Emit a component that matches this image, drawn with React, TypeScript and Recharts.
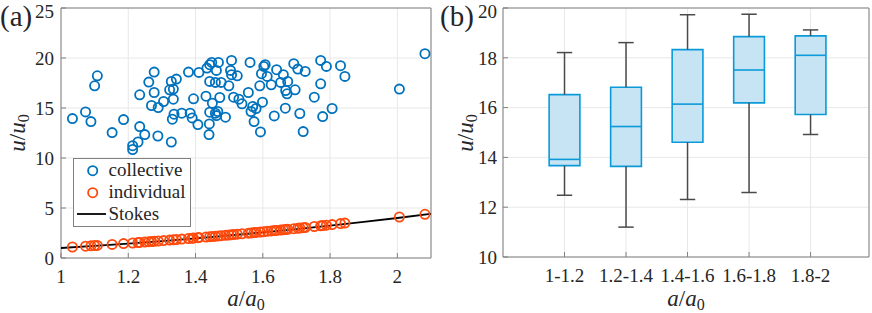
import React from "react";
import {
  ComposedChart,
  Scatter,
  Line,
  XAxis,
  YAxis,
  CartesianGrid,
  ReferenceArea,
  ReferenceLine,
  Legend,
  Label,
} from "recharts";

document.body.style.margin = "0";

// ---- panel (a): speed vs size ----
const collectiveX = [
  1.034, 1.073, 1.089, 1.1, 1.108, 1.152, 1.186, 1.213, 1.229, 1.249, 1.234, 1.234, 1.261, 1.269,
  1.277, 1.277, 1.289, 1.288, 1.305, 1.323, 1.328, 1.334, 1.343, 1.334, 1.336, 1.331, 1.328, 1.359,
  1.379, 1.384, 1.39, 1.394, 1.407, 1.41, 1.431, 1.434, 1.442, 1.448, 1.468, 1.462, 1.442, 1.459,
  1.476, 1.45, 1.442, 1.441, 1.44, 1.459, 1.462, 1.466, 1.472, 1.489, 1.499, 1.504, 1.507, 1.507,
  1.513, 1.524, 1.529, 1.538, 1.557, 1.562, 1.565, 1.57, 1.574, 1.58, 1.593, 1.591, 1.599, 1.596,
  1.603, 1.607, 1.613, 1.625, 1.634, 1.641, 1.653, 1.661, 1.668, 1.667, 1.674, 1.672, 1.692, 1.696,
  1.704, 1.71, 1.72, 1.726, 1.753, 1.772, 1.772, 1.778, 1.789, 1.806, 1.831, 1.844, 2.006, 2.082,
  1.213,
];
const collectiveY = [
  13.94, 14.61, 13.64, 17.22, 18.22, 12.54, 13.84, 11.23, 11.6, 12.34, 13.14, 16.32, 17.59, 15.25,
  18.59, 16.55, 15.05, 12.2, 15.65, 16.82, 17.66, 16.89, 17.89, 15.88, 14.38, 13.88, 11.6, 14.48,
  18.59, 14.48, 14.01, 15.92, 13.34, 18.56, 16.18, 18.99, 19.33, 19.56, 19.56, 18.76, 17.66, 17.56,
  17.56, 15.48, 14.58, 13.41, 12.34, 14.48, 14.24, 14.65, 16.05, 14.08, 17.22, 18.76, 19.76, 18.33,
  16.08, 18.22, 15.88, 15.42, 16.55, 19.56, 14.65, 15.15, 13.64, 14.95, 12.61, 17.22, 15.58, 18.43,
  19.16, 19.33, 18.16, 17.32, 14.21, 18.83, 17.56, 18.33, 16.75, 14.98, 17.66, 16.42, 19.43, 16.82,
  18.89, 14.45, 12.64, 18.66, 16.08, 19.76, 17.42, 14.14, 19.16, 14.95, 19.23, 18.16, 16.89, 20.43,
  10.85,
];
const individualX = [
  1.034, 1.073, 1.089, 1.1, 1.108, 1.152, 1.186, 1.213, 1.229, 1.234, 1.249, 1.261, 1.269, 1.277,
  1.289, 1.305, 1.323, 1.334, 1.343, 1.359, 1.379, 1.39, 1.394, 1.407, 1.41, 1.431, 1.442, 1.45,
  1.459, 1.468, 1.476, 1.489, 1.499, 1.507, 1.513, 1.524, 1.538, 1.557, 1.565, 1.574, 1.58, 1.593,
  1.603, 1.613, 1.625, 1.634, 1.641, 1.653, 1.661, 1.668, 1.674, 1.692, 1.704, 1.71, 1.72, 1.726,
  1.753, 1.772, 1.778, 1.789, 1.806, 1.831, 1.844, 2.006, 2.082,
];
const individualY = [
  1.1, 1.18, 1.22, 1.24, 1.26, 1.36, 1.44, 1.5, 1.54, 1.56, 1.6, 1.63, 1.65, 1.67,
  1.7, 1.74, 1.79, 1.82, 1.85, 1.89, 1.95, 1.98, 1.99, 2.03, 2.04, 2.1, 2.13, 2.15,
  2.18, 2.21, 2.23, 2.27, 2.3, 2.33, 2.35, 2.38, 2.42, 2.48, 2.51, 2.54, 2.56, 2.6,
  2.63, 2.67, 2.71, 2.74, 2.76, 2.8, 2.83, 2.85, 2.87, 2.93, 2.98, 3.0, 3.03, 3.05,
  3.15, 3.22, 3.24, 3.28, 3.34, 3.44, 3.49, 4.1, 4.37,
];
const stokesX = [1, 1.1, 1.2, 1.3, 1.4, 1.5, 1.6, 1.7, 1.8, 1.9, 2.0, 2.1];
const stokesY = [1, 1.21, 1.44, 1.69, 1.96, 2.25, 2.56, 2.89, 3.24, 3.61, 4.0, 4.41];
const xTicksA = [1, 1.2, 1.4, 1.6, 1.8, 2];
const yTicksA = [0, 5, 10, 15, 20, 25];

// ---- panel (b): box plots per size bin ----
const bins = ["1-1.2", "1.2-1.4", "1.4-1.6", "1.6-1.8", "1.8-2"];
const binPos = [1, 2, 3, 4, 5];
const whiskerLow = [12.48, 11.2, 12.31, 12.59, 14.92];
const q1 = [13.67, 13.64, 14.61, 16.19, 15.72];
const median = [13.92, 15.24, 16.14, 17.51, 18.1];
const q3 = [16.52, 16.82, 18.33, 18.85, 18.88];
const whiskerHigh = [18.21, 18.61, 19.73, 19.75, 19.12];
const yTicksB = [10, 12, 14, 16, 18, 20];

const FONT = "Liberation Serif";
const INK = "#262626";
const FRAME = "#808080";
const GRID = "#e8e8e8";
const BLUE = "#0072BD";
const ORANGE = "#FF4A0D";
const BOX_EDGE = "#0A9AD9";
const BOX_FILL = "#C6E4F4";
const WHISKER = "#4a4a4a";

const tickStyle = { fill: INK, fontSize: 19, fontFamily: FONT };

const collective = collectiveX.map((x, i) => ({ x, y: collectiveY[i] }));
const individual = individualX.map((x, i) => ({ x, y: individualY[i] }));
const stokes = stokesX.map((x, i) => ({ x, y: stokesY[i] }));
const boxes = bins.map((name, i) => ({
  x: binPos[i],
  name,
  lo: whiskerLow[i],
  q1: q1[i],
  med: median[i],
  q3: q3[i],
  hi: whiskerHigh[i],
}));

const ring = (color: string) => (p: any) =>
  <circle cx={p.cx} cy={p.cy} r={4.6} fill="none" stroke={color} strokeWidth={1.8} />;

function MathLabel({ x, y, base, rotate }: { x: number; y: number; base: string; rotate?: boolean }) {
  return (
    <text
      x={x}
      y={y}
      textAnchor="middle"
      fontFamily={FONT}
      fontSize={23}
      fill={INK}
      transform={rotate ? `rotate(-90 ${x} ${y})` : undefined}
    >
      <tspan fontStyle="italic">{base}</tspan>/<tspan fontStyle="italic">{base}</tspan>
      <tspan fontSize={16} dy={4}>0</tspan>
    </text>
  );
}

function LegendBox() {
  const rows = [
    { label: "collective", color: BLUE, y: 12.7 },
    { label: "individual", color: ORANGE, y: 34.7 },
  ];
  return (
    <div style={{ width: 118, height: 69, background: "#fff" }}>
      <svg width={118} height={69}>
        <rect x={0.5} y={0.5} width={117} height={68} fill="#fff" stroke={FRAME} />
        {rows.map((r) => (
          <g key={r.label}>
            <circle cx={19.7} cy={r.y} r={4.6} fill="none" stroke={r.color} strokeWidth={1.8} />
            <text x={35.5} y={r.y + 5.5} fontFamily={FONT} fontSize={19} fill={INK}>
              {r.label}
            </text>
          </g>
        ))}
        <line x1={4} x2={33} y1={56} y2={56} stroke="#000" strokeWidth={1.8} />
        <text x={35.5} y={61.5} fontFamily={FONT} fontSize={19} fill={INK}>
          Stokes
        </text>
      </svg>
    </div>
  );
}

// inward tick marks on the top and right edges (MATLAB box style)
const mirrorTicks = {
  allowDataOverflow: true,
  axisLine: false,
  tick: false,
  tickSize: -5,
  tickLine: { stroke: FRAME },
} as const;

function PanelA() {
  return (
    <ComposedChart width={440} height={313} margin={{ top: 8, right: 9, left: 0, bottom: 0 }}>
      <CartesianGrid stroke={GRID} />
      <XAxis
        type="number"
        dataKey="x"
        domain={[1, 2.1]}
        ticks={xTicksA}
        allowDataOverflow
        height={55}
        axisLine={false}
        tickSize={-5}
        tickMargin={17}
        tickLine={{ stroke: FRAME }}
        tick={tickStyle}
      >
        <Label content={() => <MathLabel x={246} y={306} base="a" />} />
      </XAxis>
      <XAxis xAxisId="top" orientation="top" type="number" domain={[1, 2.1]} ticks={xTicksA} height={0} {...mirrorTicks} />
      <YAxis
        type="number"
        dataKey="y"
        domain={[0, 25]}
        ticks={yTicksA}
        allowDataOverflow
        width={61}
        axisLine={false}
        tickSize={-5}
        tickMargin={12}
        tickLine={{ stroke: FRAME }}
        tick={tickStyle}
      >
        <Label content={() => <MathLabel x={25} y={133} base="u" rotate />} />
      </YAxis>
      <YAxis yAxisId="right" orientation="right" type="number" domain={[0, 25]} ticks={yTicksA} width={0} {...mirrorTicks} />
      <ReferenceArea x1={1} x2={2.1} y1={0} y2={25} fill="none" stroke={FRAME} strokeWidth={1} />
      <Scatter name="collective" data={collective} dataKey="y" shape={ring(BLUE)} isAnimationActive={false} />
      <Scatter name="individual" data={individual} dataKey="y" shape={ring(ORANGE)} isAnimationActive={false} />
      <Line
        name="Stokes"
        data={stokes}
        dataKey="y"
        type="monotone"
        stroke="#000"
        strokeWidth={1.8}
        dot={false}
        activeDot={false}
        isAnimationActive={false}
      />
      <Legend
        layout="vertical"
        align="center"
        verticalAlign="middle"
        content={() => <LegendBox />}
        wrapperStyle={{ left: 73, top: 158, width: 118, height: 69 }}
      />
    </ComposedChart>
  );
}

function PanelB() {
  return (
    <ComposedChart width={432} height={313} data={boxes} margin={{ top: 8, right: 3, left: 0, bottom: 0 }}>
      <CartesianGrid stroke={GRID} />
      <XAxis
        type="number"
        dataKey="x"
        domain={[0, 5.95]}
        ticks={binPos}
        allowDataOverflow
        height={56}
        axisLine={false}
        tickSize={-5}
        tickMargin={17}
        tickLine={{ stroke: FRAME }}
        tick={tickStyle}
        tickFormatter={(v: number) => bins[v - 1] ?? ""}
      >
        <Label content={() => <MathLabel x={246} y={306} base="a" />} />
      </XAxis>
      <XAxis xAxisId="top" orientation="top" type="number" domain={[0, 5.95]} ticks={binPos} height={0} {...mirrorTicks} />
      <YAxis
        type="number"
        domain={[10, 20]}
        ticks={yTicksB}
        allowDataOverflow
        width={63}
        axisLine={false}
        tickSize={-5}
        tickMargin={11}
        tickLine={{ stroke: FRAME }}
        tick={tickStyle}
      >
        <Label content={() => <MathLabel x={33} y={133} base="u" rotate />} />
      </YAxis>
      <YAxis yAxisId="right" orientation="right" type="number" domain={[10, 20]} ticks={yTicksB} width={0} {...mirrorTicks} />
      <ReferenceArea x1={0} x2={5.95} y1={10} y2={20} fill="none" stroke={FRAME} strokeWidth={1} />
      {boxes.map((b) => (
        <React.Fragment key={b.name}>
          <ReferenceLine segment={[{ x: b.x, y: b.q3 }, { x: b.x, y: b.hi }]} stroke={WHISKER} strokeWidth={1.5} />
          <ReferenceLine segment={[{ x: b.x, y: b.lo }, { x: b.x, y: b.q1 }]} stroke={WHISKER} strokeWidth={1.5} />
          <ReferenceLine segment={[{ x: b.x - 0.125, y: b.hi }, { x: b.x + 0.125, y: b.hi }]} stroke={WHISKER} strokeWidth={1.5} />
          <ReferenceLine segment={[{ x: b.x - 0.125, y: b.lo }, { x: b.x + 0.125, y: b.lo }]} stroke={WHISKER} strokeWidth={1.5} />
          <ReferenceArea
            x1={b.x - 0.25}
            x2={b.x + 0.25}
            y1={b.q1}
            y2={b.q3}
            fill={BOX_FILL}
            fillOpacity={1}
            stroke={BOX_EDGE}
            strokeWidth={1.6}
          />
          <ReferenceLine segment={[{ x: b.x - 0.25, y: b.med }, { x: b.x + 0.25, y: b.med }]} stroke={BOX_EDGE} strokeWidth={1.6} />
        </React.Fragment>
      ))}
      <Scatter dataKey="med" shape={() => <g />} isAnimationActive={false} legendType="none" />
    </ComposedChart>
  );
}

const panelTag: React.CSSProperties = {
  position: "absolute",
  top: 0,
  fontFamily: FONT,
  fontSize: 29,
  color: INK,
  lineHeight: "32px",
};

export default function App() {
  return (
    <div style={{ position: "relative", width: 872, height: 313, background: "#fff", overflow: "hidden" }}>
      <div style={{ position: "absolute", left: 0, top: 0 }}>
        <PanelA />
      </div>
      <div style={{ position: "absolute", left: 440, top: 0 }}>
        <PanelB />
      </div>
      <div style={{ ...panelTag, left: 0 }}>(a)</div>
      <div style={{ ...panelTag, left: 440 }}>(b)</div>
    </div>
  );
}
